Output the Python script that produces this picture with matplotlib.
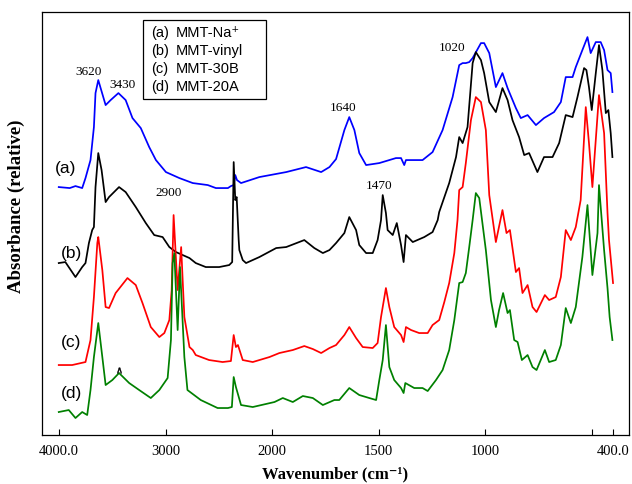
import numpy as np
import matplotlib
matplotlib.use('Agg')
import matplotlib.pyplot as plt
from matplotlib.patches import Rectangle

SERIF = ['Liberation Serif', 'DejaVu Serif']
SANS = ['Liberation Sans', 'DejaVu Sans']

# FTIR spectra, wavenumber (cm-1) against relative absorbance (offset stack)
wn_a = [4003, 3900, 3846, 3783, 3752, 3705, 3673, 3658, 3632, 3563, 3516, 3443, 3375, 3311, 3233,
        3154, 3091, 2997, 2871, 2745, 2604, 2528, 2415, 2387, 2361, 2346, 2330, 2292, 2120, 1934,
        1841, 1770, 1731, 1700, 1661, 1638, 1614, 1591, 1559, 1497, 1419, 1395, 1380, 1372, 1294,
        1247, 1200, 1153, 1122, 1106, 1091, 1075, 1059, 1020, 1005, 981, 950, 919, 895, 856,
        833, 801, 762, 724, 677, 645, 622, 590, 575, 544, 520, 505, 481, 458, 442, 426, 411, 403]
abs_a = [2.53, 2.52, 2.54, 2.52, 2.62, 2.80, 3.13, 3.47, 3.60, 3.35, 3.40, 3.47, 3.40, 3.22, 3.12,
         2.93, 2.80, 2.68, 2.62, 2.57, 2.55, 2.52, 2.52, 2.54, 2.55, 2.65, 2.60, 2.57, 2.63, 2.68,
         2.73, 2.68, 2.73, 2.81, 3.10, 3.23, 3.10, 2.87, 2.75, 2.77, 2.82, 2.82, 2.75, 2.80, 2.80,
         2.88, 3.10, 3.43, 3.75, 3.77, 3.77, 3.78, 3.82, 3.97, 3.97, 3.87, 3.53, 3.67, 3.52, 3.32,
         3.22, 3.25, 3.15, 3.22, 3.28, 3.38, 3.63, 3.63, 3.73, 3.90, 4.03, 3.87, 3.98, 3.98, 3.90,
         3.70, 3.67, 3.48]

wn_b = [4003, 3941, 3846, 3783, 3752, 3720, 3689, 3673, 3658, 3632, 3601, 3563, 3531, 3437, 3375,
        3280, 3186, 3107, 3028, 2965, 2903, 2776, 2717, 2623, 2497, 2403, 2375, 2361, 2346, 2333,
        2314, 2308, 2276, 2245, 2120, 1981, 1934, 1849, 1802, 1762, 1731, 1700, 1661, 1638, 1606,
        1591, 1559, 1528, 1505, 1489, 1481, 1466, 1458, 1434, 1415, 1395, 1383, 1372, 1340, 1286,
        1247, 1223, 1216, 1169, 1137, 1122, 1106, 1083, 1059, 1044, 1020, 1005, 981, 950, 919,
        895, 872, 841, 817, 794, 755, 724, 684, 653, 622, 590, 567, 536, 525, 513,
        500, 481, 466, 450, 434, 422, 411, 403]
abs_b = [1.77, 1.78, 1.63, 1.73, 1.77, 1.97, 2.10, 2.13, 2.53, 2.87, 2.70, 2.38, 2.43, 2.53, 2.48,
         2.33, 2.17, 2.05, 2.03, 1.93, 1.88, 1.82, 1.77, 1.73, 1.73, 1.75, 1.78, 2.78, 2.40, 2.43,
         2.00, 1.90, 1.80, 1.77, 1.83, 1.92, 1.93, 2.00, 1.92, 1.87, 1.90, 1.97, 2.07, 2.23, 2.10,
         1.95, 1.87, 1.87, 2.00, 2.20, 2.45, 2.27, 2.10, 2.05, 2.17, 1.95, 1.78, 2.05, 1.98, 2.03,
         2.08, 2.20, 2.28, 2.57, 2.83, 3.03, 2.97, 3.13, 3.77, 3.88, 3.80, 3.67, 3.38, 3.28, 3.52,
         3.40, 3.20, 3.03, 2.85, 2.87, 2.68, 2.83, 2.83, 2.97, 3.25, 3.23, 3.43, 3.72, 3.70, 3.53,
         3.30, 3.67, 3.95, 3.70, 3.27, 3.30, 3.07, 2.83]

wn_c = [4003, 3877, 3752, 3705, 3673, 3641, 3632, 3594, 3563, 3531, 3469, 3358, 3280, 3217, 3139,
        3059, 3012, 2965, 2943, 2925, 2887, 2854, 2824, 2776, 2745, 2717, 2592, 2465, 2387, 2361,
        2340, 2321, 2276, 2182, 2025, 1966, 1903, 1849, 1809, 1770, 1731, 1700, 1661, 1638, 1606,
        1575, 1528, 1505, 1489, 1466, 1450, 1427, 1395, 1383, 1372, 1348, 1310, 1270, 1247, 1216,
        1192, 1169, 1145, 1130, 1122, 1106, 1091, 1067, 1044, 1020, 997, 981, 950, 919, 900,
        884, 856, 841, 825, 801, 778, 759, 720, 700, 669, 645, 622, 598, 575, 552,
        528, 513, 497, 466, 442, 426, 419, 400]
abs_c = [0.75, 0.75, 0.78, 1.00, 1.43, 1.97, 2.03, 1.70, 1.33, 1.32, 1.47, 1.62, 1.55, 1.37, 1.13,
         1.03, 1.07, 1.20, 1.50, 2.25, 1.50, 1.93, 1.23, 0.93, 0.90, 0.85, 0.80, 0.78, 0.79, 1.05,
         0.93, 0.95, 0.80, 0.78, 0.83, 0.87, 0.90, 0.94, 0.91, 0.87, 0.92, 0.95, 1.05, 1.13, 1.02,
         0.93, 0.92, 0.97, 1.23, 1.52, 1.33, 1.13, 1.05, 0.98, 1.13, 1.10, 1.07, 1.07, 1.15, 1.20,
         1.38, 1.57, 1.87, 2.20, 2.50, 2.53, 2.77, 3.20, 3.43, 3.38, 3.10, 2.45, 1.98, 2.30, 2.07,
         2.10, 1.68, 1.72, 1.47, 1.55, 1.33, 1.28, 1.45, 1.40, 1.43, 1.63, 2.10, 2.00, 2.13, 2.40,
         3.33, 2.97, 2.53, 3.45, 3.07, 2.27, 2.00, 1.57]

wn_d = [4003, 3909, 3846, 3783, 3736, 3705, 3673, 3632, 3594, 3563, 3500, 3437, 3342, 3248, 3139,
        3059, 2981, 2950, 2934, 2918, 2887, 2865, 2824, 2795, 2670, 2512, 2415, 2378, 2361, 2340,
        2292, 2182, 1989, 1950, 1903, 1856, 1809, 1762, 1708, 1685, 1638, 1591, 1544, 1512, 1497,
        1481, 1466, 1450, 1427, 1395, 1383, 1375, 1333, 1294, 1270, 1231, 1200, 1169, 1145, 1122,
        1106, 1091, 1075, 1059, 1044, 1028, 997, 973, 950, 935, 916, 895, 884, 864, 848,
        828, 801, 778, 759, 720, 700, 669, 645, 622, 598, 575, 544, 520, 497, 473,
        466, 442, 426, 416, 403]
abs_d = [0.28, 0.30, 0.22, 0.28, 0.25, 0.50, 0.83, 1.17, 0.83, 0.55, 0.60, 0.67, 0.57, 0.50, 0.42,
         0.50, 0.62, 1.00, 1.77, 1.87, 1.10, 1.73, 0.83, 0.50, 0.40, 0.32, 0.32, 0.33, 0.63, 0.53,
         0.35, 0.33, 0.38, 0.42, 0.38, 0.44, 0.42, 0.35, 0.40, 0.40, 0.52, 0.45, 0.42, 0.40, 0.60,
         0.80, 1.15, 0.73, 0.60, 0.52, 0.47, 0.57, 0.52, 0.52, 0.49, 0.60, 0.70, 0.90, 1.20, 1.57,
         1.58, 1.67, 1.93, 2.20, 2.47, 2.42, 1.90, 1.40, 1.13, 1.30, 1.47, 1.27, 1.30, 1.00, 0.98,
         0.80, 0.85, 0.73, 0.70, 0.90, 0.78, 0.80, 0.95, 1.32, 1.17, 1.33, 1.83, 2.35, 1.65, 2.07,
         2.55, 1.90, 1.52, 1.23, 1.00]

series_tags = ['(a)', '(b)', '(c)', '(d)']
series_names = ['MMT-Na\u207a', 'MMT-vinyl', 'MMT-30B', 'MMT-20A']
series_colors = ['#0000ff', '#000000', '#ff0000', '#008000']

# band positions written above the peaks
band_labels = ['3620', '3430', '2900', '1640', '1470', '1020']
band_wn = [3726, 3409, 2969, 1669, 1497, 1156]
band_abs = [3.68, 3.55, 2.47, 3.32, 2.54, 3.92]

tick_wn = [4000, 3000, 2000, 1500, 1000, 500, 400]
tick_text = ['4000.0', '3000', '2000', '1500', '1000', '', '400.0']


# above 2000 cm-1 the axis is compressed by a factor of two
def fwd(x):
    x = np.asarray(x, dtype=float)
    return np.where(x > 2000, 2000 + (x - 2000) / 2.0, x)


def inv(x):
    x = np.asarray(x, dtype=float)
    return np.where(x > 2000, 2000 + (x - 2000) * 2.0, x)


fig = plt.figure(figsize=(6.32, 4.84), dpi=100)
ax = fig.add_axes([0.0665, 0.1012, 0.9288, 0.8738])
ax.set_xscale('function', functions=(fwd, inv))

spectra = [(wn_a, abs_a), (wn_b, abs_b), (wn_c, abs_c), (wn_d, abs_d)]
for (w, a), col in zip(spectra, series_colors):
    ax.plot(w, a, color=col, lw=1.25)

# small caret mark sitting on the 20A curve
ax.plot(3437, 0.70, marker=r'$\wedge$', color='black', ms=4, mew=0.3)

ax.set_xlim(4160, 325)
ax.set_ylim(0.05, 4.28)

ax.set_xticks(tick_wn)
ax.set_xticklabels(tick_text, family=SERIF, fontsize=10.5)
ax.tick_params(axis='x', direction='in', length=4, width=0.8, pad=7, top=False)
ax.set_yticks([])
for s in ax.spines.values():
    s.set_linewidth(0.9)

ax.set_xlabel('Wavenumber (cm\u207b\u00b9)', family=SERIF, fontsize=12, fontweight='bold', labelpad=6)
ax.set_ylabel('Absorbance (relative)', family=SERIF, fontsize=13.5, fontweight='bold')
ax.yaxis.set_label_coords(-0.029, 0.54)

for t, w, a in zip(band_labels, band_wn, band_abs):
    ax.text(w, a, t, family=SERIF, fontsize=9.5, ha='center', va='center')

# curve tags on the left side
tag_wn = [3943, 3887, 3887, 3887]
tag_abs = [2.72, 1.87, 0.98, 0.47]
for t, w, a in zip(series_tags, tag_wn, tag_abs):
    ax.text(w, a, t, family=SANS, fontsize=12.5, ha='center', va='center')

# key box
ax.add_patch(Rectangle((0.172, 0.794), 0.2096, 0.187, transform=ax.transAxes,
                       fill=False, ec='black', lw=0.9))
key_y = [0.950, 0.907, 0.865, 0.822]
for t, n, y in zip(series_tags, series_names, key_y):
    ax.text(0.1857, y, t, transform=ax.transAxes, family=SANS, fontsize=10.5, va='center')
    ax.text(0.2283, y, n, transform=ax.transAxes, family=SANS, fontsize=10.5, va='center')

fig.savefig('out.png', dpi=100)
